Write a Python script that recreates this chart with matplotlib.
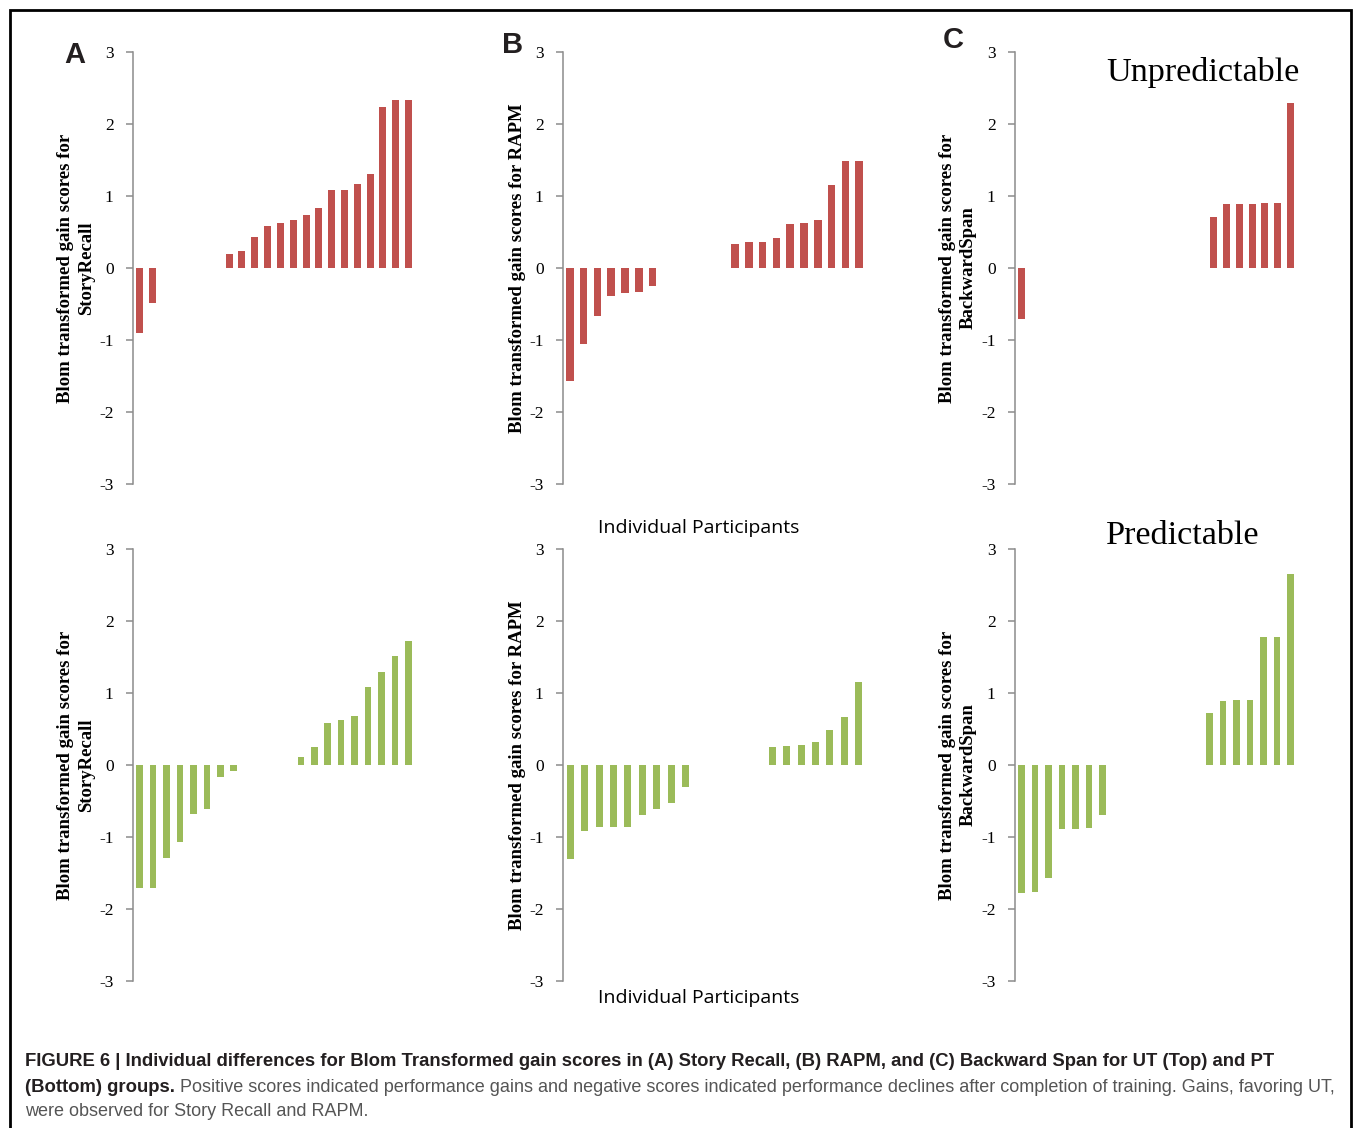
import matplotlib
matplotlib.use("Agg")
import matplotlib.pyplot as plt
from matplotlib.patches import Rectangle

W, H = 1357, 1128

# ---- data (sorted individual Blom-transformed gain scores; zeros = no change) ----
ut_story = [-0.90, -0.48, 0, 0, 0, 0, 0,
            0.19, 0.23, 0.43, 0.59, 0.62, 0.66, 0.73, 0.83, 1.08, 1.08, 1.17, 1.30, 2.24, 2.33, 2.33]
ut_rapm = [-1.57, -1.05, -0.66, -0.39, -0.35, -0.33, -0.25, 0, 0, 0, 0, 0,
           0.34, 0.355, 0.355, 0.415, 0.61, 0.62, 0.66, 1.15, 1.48, 1.49]
ut_bspan = [-0.71, 0, 0, 0, 0, 0, 0, 0, 0, 0, 0, 0, 0, 0, 0,
            0.715, 0.886, 0.886, 0.89, 0.90, 0.90, 2.29]
pt_story = [-1.71, -1.71, -1.29, -1.07, -0.68, -0.61, -0.17, -0.083, 0, 0, 0, 0,
            0.115, 0.25, 0.58, 0.62, 0.68, 1.08, 1.29, 1.52, 1.72]
pt_rapm = [-1.30, -0.91, -0.86, -0.86, -0.86, -0.70, -0.61, -0.53, -0.30, 0, 0, 0, 0, 0,
           0.25, 0.27, 0.28, 0.32, 0.49, 0.66, 1.15]
pt_bspan = [-1.78, -1.76, -1.57, -0.89, -0.89, -0.88, -0.70, 0, 0, 0, 0, 0, 0, 0,
            0.72, 0.89, 0.90, 0.90, 1.78, 1.78, 2.65]

y_ticks = [-3, -2, -1, 0, 1, 2, 3]
ylabels = ["Blom transformed gain scores for\nStoryRecall",
           "Blom transformed gain scores for RAPM",
           "Blom transformed gain scores for\nBackwardSpan"]
panel_letters = ["A", "B", "C"]
RED = "#C0504D"
GREEN = "#9BBB59"

fig = plt.figure(figsize=(W / 100, H / 100), dpi=100)


def fx(x):
    return x / W


def fy(y):
    return 1 - y / H


def add_axes(left, top, width, height):
    return fig.add_axes([fx(left), fy(top + height), width / W, height / H])


lefts = [133, 563, 1015]
widths = [282, 303, 282]
tops = [52, 549]
rows = [[ut_story, ut_rapm, ut_bspan], [pt_story, pt_rapm, pt_bspan]]
colors = [RED, GREEN]
bar_w = [0.55, 0.48]

for r in range(2):
    for c in range(3):
        vals = rows[r][c]
        ax = add_axes(lefts[c], tops[r], widths[c], 432)
        xs = list(range(len(vals)))
        ax.bar(xs, vals, width=bar_w[r], color=colors[r], linewidth=0)
        ax.set_xlim(-0.5, len(vals) - 0.5)
        ax.set_ylim(-3, 3)
        ax.set_yticks(y_ticks)
        ax.set_yticklabels([str(t) for t in y_ticks], family="Liberation Serif", fontsize=12.5)
        ax.set_xticks([])
        for s in ["top", "right", "bottom"]:
            ax.spines[s].set_visible(False)
        ax.spines["left"].set_color("#8c8c8c")
        ax.spines["left"].set_linewidth(1.1)
        ax.tick_params(axis="y", direction="out", length=5, width=1.1, color="#8c8c8c", pad=9)
        ax.patch.set_alpha(0)

# y labels
ylab_x = [76, 518, 958]
for r, yc in enumerate([268, 765]):
    for c in range(3):
        fig.text(fx(ylab_x[c]), fy(yc), ylabels[c], rotation=90, ha="center", va="center",
                 family="Liberation Serif", fontweight="bold", fontsize=13.5, linespacing=1.25)

# panel letters
for letter, (x, y) in zip(panel_letters, [(75, 55), (513, 45), (953, 40)]):
    fig.text(fx(x), fy(y), letter, ha="center", va="center", family="Liberation Sans",
             fontweight="bold", fontsize=21, color="#231f20")

# group labels
fig.text(fx(1106), fy(72), "Unpredictable", ha="left", va="center",
         family="Liberation Serif", fontsize=24.6)
fig.text(fx(1106), fy(536), "Predictable", ha="left", va="center",
         family="Liberation Serif", fontsize=24.6)

# x-axis captions
for y in [528, 998]:
    fig.text(fx(699), fy(y), "Individual Participants", ha="center", va="center",
             family="Open Sans", fontsize=14)

# frame
fig.patches.append(Rectangle((fx(10), fy(1140)), (1351 - 10) / W, (1140 - 10) / H,
                             transform=fig.transFigure, fill=False, edgecolor="black",
                             linewidth=2, clip_on=False))

# figure caption
BOLD_C = "#231f20"
NORM_C = "#555555"
fig.text(fx(25), fy(1062),
         "FIGURE 6 | Individual differences for Blom Transformed gain scores in (A) Story Recall, "
         "(B) RAPM, and (C) Backward Span for UT (Top) and PT",
         ha="left", va="center", fontweight="bold", color=BOLD_C,
         family="Liberation Sans", fontsize=13.3)
t2 = fig.text(fx(25), fy(1087), "(Bottom) groups.", ha="left", va="center",
              fontweight="bold", color=BOLD_C, family="Liberation Sans", fontsize=13.3)
ax_dummy = fig.add_axes([0, 0, 1, 1])
ax_dummy.axis("off")
ax_dummy.patch.set_alpha(0)
ax_dummy.annotate(" Positive scores indicated performance gains and negative scores indicated "
                  "performance declines after completion of training. Gains, favoring UT,",
                  xy=(1, 0.5), xycoords=t2, ha="left", va="center", color=NORM_C,
                  family="Liberation Sans", fontsize=13.0)
fig.text(fx(25), fy(1112), "were observed for Story Recall and RAPM.", ha="left", va="center",
         color=NORM_C, family="Liberation Sans", fontsize=13.0)

fig.savefig("out.png", dpi=100)
